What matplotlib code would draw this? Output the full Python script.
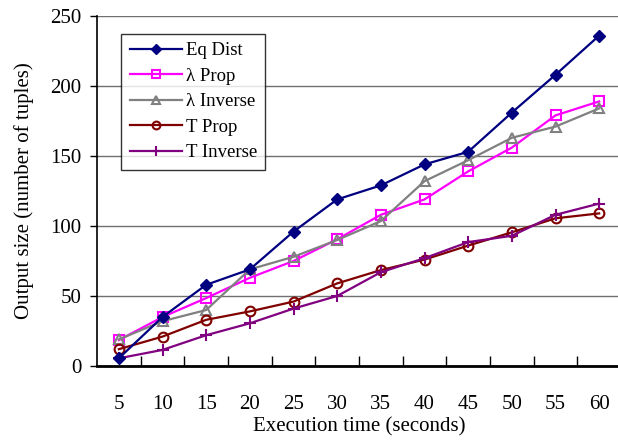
import matplotlib
matplotlib.use("Agg")
import matplotlib.pyplot as plt
import numpy as np

plt.rcParams['font.family'] = ['Liberation Serif', 'DejaVu Serif']

times = [5, 10, 15, 20, 25, 30, 35, 40, 45, 50, 55, 60]
eq_dist = [5.5, 35, 58, 69, 96, 119, 129, 144, 153, 181, 208, 236]
lam_prop = [18.5, 35, 48.5, 63, 75, 90.5, 108, 119, 139, 156, 179, 189]
lam_inv = [19, 32, 40, 69, 78, 90, 103.5, 132, 147, 163, 171, 184]
t_prop = [12, 21, 33, 39, 46, 59, 68.5, 76, 86, 95.5, 105.5, 109]
t_inv = [5.5, 11.5, 22, 30.5, 41, 50, 67, 77, 88.5, 93, 108, 116]

fig = plt.figure(figsize=(6.18, 4.43), dpi=100)
ax = fig.add_axes([97/618, 77/443, 524/618, 350/443])

ax.plot(times, eq_dist, color="#000080", marker="D", markersize=6, lw=1.6, label="Eq Dist", zorder=5)
ax.plot(times, lam_prop, color="#FF00FF", marker="s", markersize=7, mfc="none", mew=1.5, lw=1.6, label="λ Prop", zorder=4)
ax.plot(times, lam_inv, color="#808080", marker="^", markersize=7, mfc="none", mew=1.5, lw=1.6, label="λ Inverse", zorder=4)
ax.plot(times, t_prop, color="#800000", marker="o", markersize=7, mfc="none", mew=1.5, lw=1.6, label="T Prop", zorder=4)
ax.plot(times, t_inv, color="#800080", marker="+", markersize=9, mew=1.5, lw=1.6, label="T Inverse", zorder=4)

ax.set_xlim(2.5, 62.5)
ax.set_ylim(0, 250)
ax.set_xticks(times)
ax.set_xticks(np.arange(7.5, 62.5, 5), minor=True)
ax.set_yticks(range(0, 251, 50))
ax.tick_params(axis='x', which='major', length=0, labelsize=15, pad=21)
ax.tick_params(axis='x', which='minor', direction='in', length=7, width=1)
ax.tick_params(axis='y', direction='out', length=5, width=1, labelsize=15, pad=6)
ax.yaxis.grid(True, color="#707070", lw=1)
ax.set_axisbelow(True)
for s in ['top', 'right']:
    ax.spines[s].set_visible(False)
ax.spines['left'].set_linewidth(1.2)
ax.spines['bottom'].set_linewidth(2)

ax.set_xlabel("Execution time (seconds)", fontsize=15, labelpad=2)
ax.set_ylabel("Output size (number of tuples)", fontsize=15, labelpad=12)

leg = ax.legend(loc="upper left", bbox_to_anchor=(0.046, 0.95), borderaxespad=0, fontsize=13.5,
                frameon=True, fancybox=False, edgecolor="black", handlelength=2.8, borderpad=0.45,
                labelspacing=0.45, handletextpad=0.2, markerscale=0.8)
leg.get_frame().set_linewidth(1)

fig.savefig("out.png", dpi=100)
